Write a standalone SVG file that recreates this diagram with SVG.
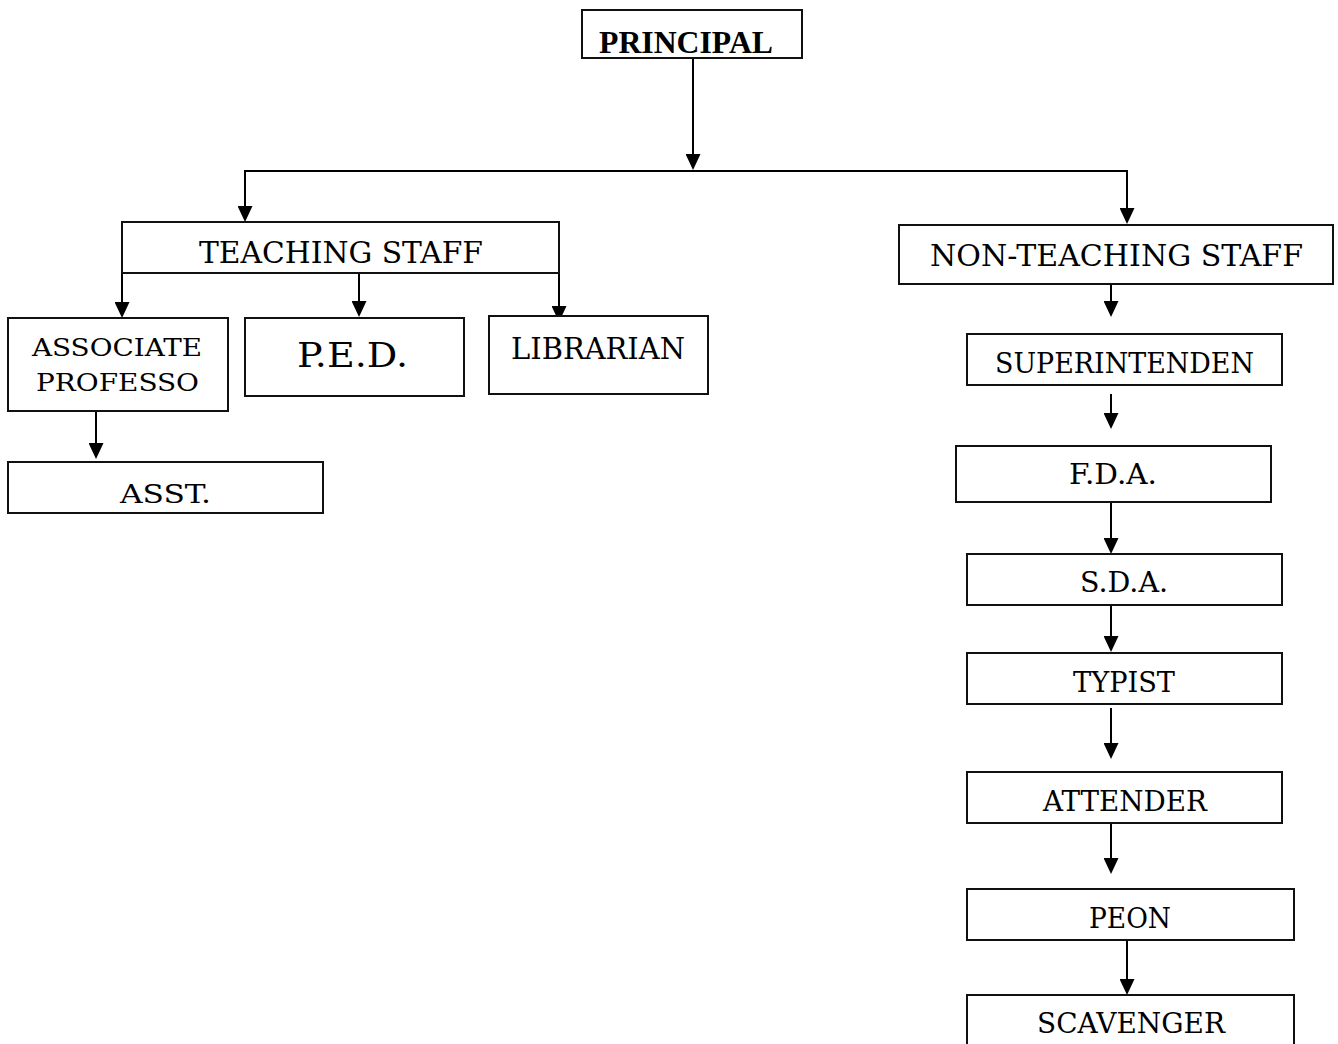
<svg xmlns="http://www.w3.org/2000/svg" width="1338" height="1044" viewBox="0 0 1338 1044">
<style>
  .box { fill: #ffffff; stroke: #111111; stroke-width: 2; }
  .lbl { font-family: "DejaVu Serif", "Liberation Serif", serif; fill: #000000; text-anchor: middle; }
  .bold { font-family: "Liberation Serif", "Times New Roman", serif; font-weight: bold; fill: #000000; text-anchor: middle; }
  .conn { stroke: #000000; stroke-width: 2; fill: none; }
  .arr { marker-end: url(#ah); }
</style>
<defs>
  <marker id="ah" markerUnits="userSpaceOnUse" markerWidth="16" markerHeight="15" viewBox="0 0 16 15" refX="7" refY="7.5" orient="auto">
    <path d="M0,0 L16,7.5 L0,15 Z" fill="#000000"/>
  </marker>
</defs>
<rect width="1338" height="1044" fill="#ffffff"/>

<g id="connectors">
  <line class="conn arr" x1="693" y1="58" x2="693" y2="161"/>
  <line class="conn" x1="244" y1="171" x2="1128" y2="171"/>
  <line class="conn arr" x1="245" y1="170" x2="245" y2="213"/>
  <line class="conn arr" x1="1127" y1="170" x2="1127" y2="215"/>
  <line class="conn arr" x1="122" y1="273" x2="122" y2="309"/>
  <line class="conn arr" x1="359" y1="273" x2="359" y2="308"/>
  <line class="conn arr" x1="559" y1="273" x2="559" y2="313"/>
  <line class="conn arr" x1="96" y1="411" x2="96" y2="450"/>
  <line class="conn arr" x1="1111" y1="284" x2="1111" y2="308"/>
  <line class="conn arr" x1="1111" y1="394" x2="1111" y2="420"/>
  <line class="conn arr" x1="1111" y1="502" x2="1111" y2="545"/>
  <line class="conn arr" x1="1111" y1="605" x2="1111" y2="643"/>
  <line class="conn arr" x1="1111" y1="708" x2="1111" y2="750"/>
  <line class="conn arr" x1="1111" y1="823" x2="1111" y2="865"/>
  <line class="conn arr" x1="1127" y1="940" x2="1127" y2="986"/>
</g>

<g id="principal">
  <rect class="box" x="582" y="10" width="220" height="48"/>
  <text class="bold" x="686" y="53" font-size="31" textLength="174" lengthAdjust="spacingAndGlyphs">PRINCIPAL</text>
</g>
<g id="teaching-staff">
  <rect class="box" x="122" y="222" width="437" height="51"/>
  <text class="lbl" x="341" y="263" font-size="29" textLength="284" lengthAdjust="spacingAndGlyphs">TEACHING STAFF</text>
</g>
<g id="associate-professor">
  <rect class="box" x="8" y="318" width="220" height="93"/>
  <text class="lbl" x="117" y="356" font-size="25" textLength="170" lengthAdjust="spacingAndGlyphs">ASSOCIATE</text>
  <text class="lbl" x="117.5" y="391" font-size="25" textLength="163" lengthAdjust="spacingAndGlyphs">PROFESSO</text>
</g>
<g id="ped">
  <rect class="box" x="245" y="318" width="219" height="78"/>
  <text class="lbl" x="352.5" y="367" font-size="33" textLength="111" lengthAdjust="spacingAndGlyphs">P.E.D.</text>
</g>
<g id="librarian">
  <rect class="box" x="489" y="316" width="219" height="78"/>
  <text class="lbl" x="598" y="359" font-size="29" textLength="174" lengthAdjust="spacingAndGlyphs">LIBRARIAN</text>
</g>
<g id="asst">
  <rect class="box" x="8" y="462" width="315" height="51"/>
  <text class="lbl" x="165.5" y="503" font-size="26" textLength="91" lengthAdjust="spacingAndGlyphs">ASST.</text>
</g>
<g id="non-teaching-staff">
  <rect class="box" x="899" y="225" width="434" height="59"/>
  <text class="lbl" x="1116.5" y="266" font-size="29" textLength="373" lengthAdjust="spacingAndGlyphs">NON-TEACHING STAFF</text>
</g>
<g id="superintendent">
  <rect class="box" x="967" y="334" width="315" height="51"/>
  <text class="lbl" x="1124.5" y="373" font-size="27" textLength="259" lengthAdjust="spacingAndGlyphs">SUPERINTENDEN</text>
</g>
<g id="fda">
  <rect class="box" x="956" y="446" width="315" height="56"/>
  <text class="lbl" x="1113" y="484" font-size="27" textLength="88" lengthAdjust="spacingAndGlyphs">F.D.A.</text>
</g>
<g id="sda">
  <rect class="box" x="967" y="554" width="315" height="51"/>
  <text class="lbl" x="1124" y="592" font-size="27" textLength="88" lengthAdjust="spacingAndGlyphs">S.D.A.</text>
</g>
<g id="typist">
  <rect class="box" x="967" y="653" width="315" height="51"/>
  <text class="lbl" x="1124" y="692" font-size="27" textLength="102" lengthAdjust="spacingAndGlyphs">TYPIST</text>
</g>
<g id="attender">
  <rect class="box" x="967" y="772" width="315" height="51"/>
  <text class="lbl" x="1125" y="811" font-size="27" textLength="164" lengthAdjust="spacingAndGlyphs">ATTENDER</text>
</g>
<g id="peon">
  <rect class="box" x="967" y="889" width="327" height="51"/>
  <text class="lbl" x="1130" y="928" font-size="27" textLength="82" lengthAdjust="spacingAndGlyphs">PEON</text>
</g>
<g id="scavenger">
  <rect class="box" x="967" y="995" width="327" height="60"/>
  <text class="lbl" x="1131" y="1033" font-size="27" textLength="188" lengthAdjust="spacingAndGlyphs">SCAVENGER</text>
</g>
</svg>
